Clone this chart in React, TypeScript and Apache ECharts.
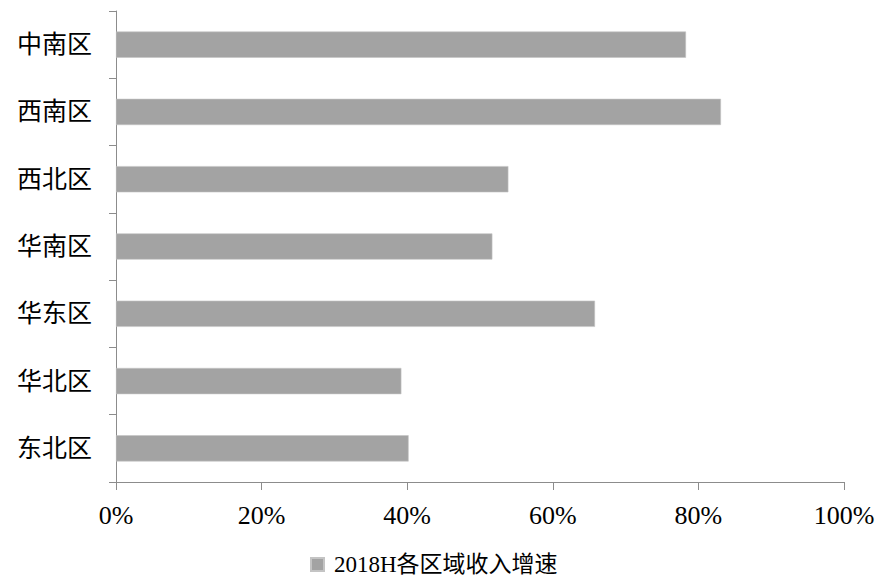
import React, { useEffect, useRef } from "react";
import * as echarts from "echarts";

const categories = ["东北区", "华北区", "华东区", "华南区", "西北区", "西南区", "中南区"];
const growthValues = [40.2, 39.2, 65.8, 51.7, 53.9, 83.1, 78.3];
const seriesName = "2018H各区域收入增速";
const xTicks = [0, 20, 40, 60, 80, 100];

const FONT = '"Liberation Serif", "Times New Roman", "Noto Sans CJK SC", serif';

export default function App() {
  const ref = useRef<HTMLDivElement>(null);
  useEffect(() => {
    if (!ref.current) return;
    const chart = echarts.init(ref.current, undefined, { renderer: "svg" });
    chart.setOption({
      animation: false,
      backgroundColor: "#ffffff",
      grid: { left: 116, right: 37, top: 11, bottom: 98, containLabel: false },
      legend: {
        top: 548,
        left: 305,
        padding: 5,
        itemWidth: 13,
        itemHeight: 13,
        itemGap: 4,
        icon: "rect",
        textStyle: { fontFamily: FONT, fontSize: 23, color: "#000", padding: [0, 0, 0, 5] },
        data: [seriesName],
      },
      xAxis: {
        type: "value",
        min: xTicks[0],
        max: xTicks[xTicks.length - 1],
        interval: 20,
        axisLine: { show: true, lineStyle: { color: "#8c8c8c", width: 1 } },
        axisTick: { show: true, inside: false, length: 8, lineStyle: { color: "#8c8c8c" } },
        splitLine: { show: false },
        axisLabel: {
          formatter: "{value}%",
          fontFamily: FONT,
          fontSize: 26,
          color: "#000",
          margin: 20,
        },
      },
      yAxis: {
        type: "category",
        data: categories,
        axisLine: { show: true, lineStyle: { color: "#8c8c8c", width: 1 } },
        axisTick: { show: true, inside: false, length: 7, alignWithLabel: false, lineStyle: { color: "#8c8c8c" } },
        axisLabel: {
          fontFamily: FONT,
          fontSize: 25,
          color: "#000",
          margin: 24,
        },
      },
      series: [
        {
          name: seriesName,
          type: "bar",
          data: growthValues,
          barCategoryGap: "61%",
          itemStyle: { color: "#a3a3a3", borderColor: "#c4c4c4", borderWidth: 0.6 },
        },
      ],
    });
    return () => chart.dispose();
  }, []);
  return (
    <div
      ref={ref}
      style={{ position: "fixed", left: 0, top: 0, width: 881, height: 580, background: "#fff" }}
    />
  );
}
